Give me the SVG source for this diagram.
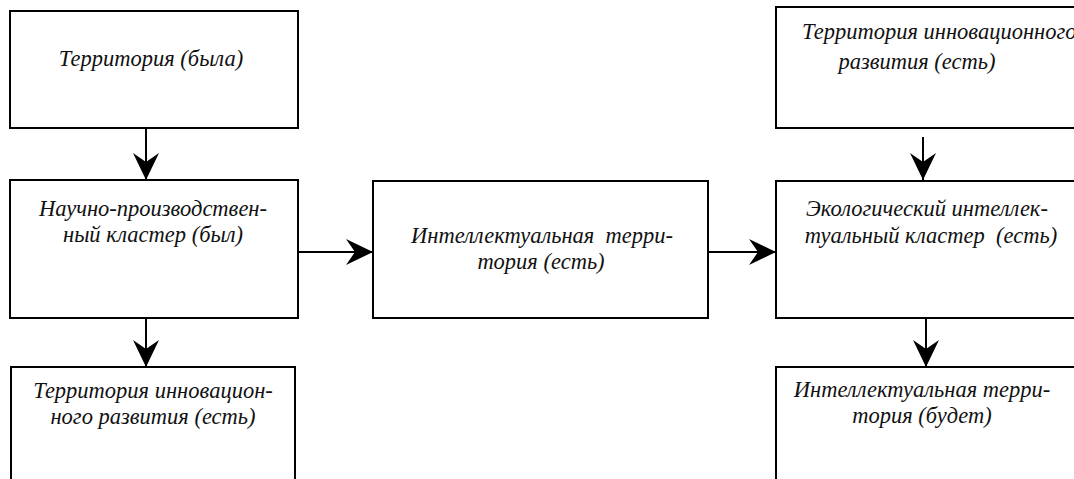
<svg xmlns="http://www.w3.org/2000/svg" width="1074" height="479" viewBox="0 0 1074 479">
  <defs>
    <style>
      .box { fill: #ffffff; stroke: #000000; stroke-width: 2; }
      .lbl { font-family: "Liberation Serif", "DejaVu Serif", serif; font-style: italic; font-size: 22.5px; fill: #111111; text-anchor: middle; white-space: pre; }
      .lbl-start { text-anchor: start; }
      .edge { stroke: #000000; stroke-width: 2; fill: none; marker-end: url(#vee); }
    </style>
    <marker id="vee" viewBox="0 0 27 26" refX="27" refY="13" markerWidth="27" markerHeight="26" markerUnits="userSpaceOnUse" orient="auto">
      <path d="M0,0 L27,13 L0,26 L9,13 Z" fill="#000000"/>
    </marker>
  </defs>
  <rect width="1074" height="479" fill="#ffffff"/>

  <g id="connectors">
    <line class="edge" x1="146" y1="128" x2="146" y2="180"/>
    <line class="edge" x1="298" y1="252" x2="373" y2="252"/>
    <line class="edge" x1="708" y1="252" x2="776" y2="252"/>
    <line class="edge" x1="146" y1="318" x2="146" y2="367"/>
    <line class="edge" x1="923" y1="137" x2="923" y2="180"/>
    <line class="edge" x1="926" y1="318" x2="926" y2="367"/>
  </g>

  <g id="territory-was">
    <rect class="box" x="10" y="11" width="288" height="117"/>
    <text class="lbl" x="151" y="66">Территория (была)</text>
  </g>

  <g id="cluster-was">
    <rect class="box" x="10" y="180" width="288" height="138"/>
    <text class="lbl" x="153" y="216">Научно-производствен-</text>
    <text class="lbl" x="153" y="242">ный кластер (был)</text>
  </g>

  <g id="innovation-territory-left">
    <rect class="box" x="11" y="367" width="284" height="130"/>
    <text class="lbl" x="153" y="398">Территория инновацион-</text>
    <text class="lbl" x="153" y="424">ного развития (есть)</text>
  </g>

  <g id="intellectual-territory-now">
    <rect class="box" x="373" y="181" width="335" height="137"/>
    <text class="lbl" x="542" y="243" xml:space="preserve">Интеллектуальная  терри-</text>
    <text class="lbl" x="541" y="269">тория (есть)</text>
  </g>

  <g id="innovation-territory-right">
    <rect class="box" x="776" y="7" width="320" height="121"/>
    <text class="lbl lbl-start" x="802" y="39">Территория инновационного</text>
    <text class="lbl" x="917" y="69">развития (есть)</text>
  </g>

  <g id="eco-cluster">
    <rect class="box" x="776" y="181" width="320" height="137"/>
    <text class="lbl" x="927" y="216">Экологический интеллек-</text>
    <text class="lbl" x="931" y="243" xml:space="preserve">туальный кластер  (есть)</text>
  </g>

  <g id="intellectual-territory-future">
    <rect class="box" x="776" y="367" width="320" height="130"/>
    <text class="lbl" x="922" y="397">Интеллектуальная терри-</text>
    <text class="lbl" x="922" y="423">тория (будет)</text>
  </g>
</svg>
